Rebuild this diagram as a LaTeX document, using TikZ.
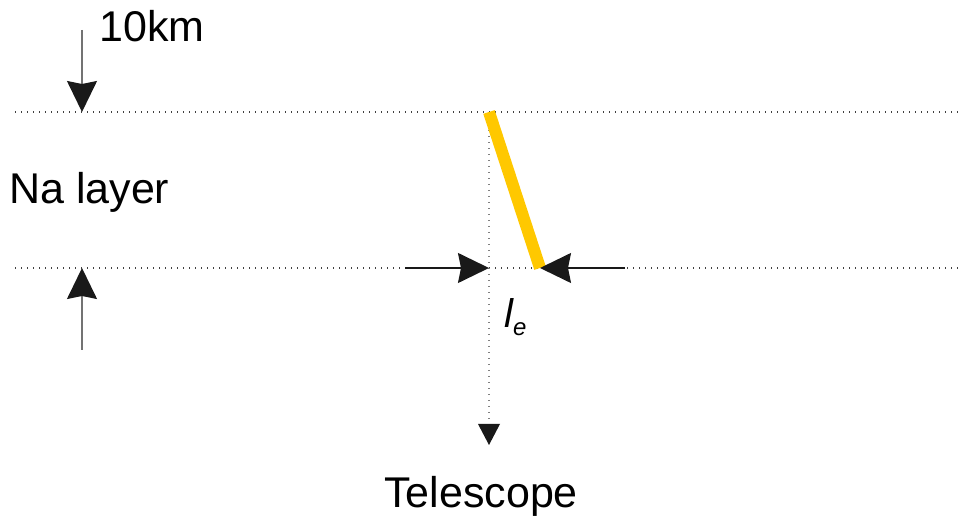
\documentclass[tikz,border=0pt]{standalone}
\usepackage{fontspec}
\setmainfont{Liberation Sans}
\usetikzlibrary{arrows.meta}
\definecolor{barY}{HTML}{FFC800}
\tikzset{
  dots/.style={line width=1.2pt, dash pattern=on 1.2pt off 4.8pt, color=black!75},
  bigarrow/.style={line width=1.5pt, -{Stealth[length=31pt,width=30pt,inset=3pt,color=black!90,fill=black!90]}},
  lbl/.style={font=\fontsize{43}{46}\selectfont, inner sep=0pt, anchor=base west}
}
\begin{document}
\begin{tikzpicture}[x=1pt,y=-1pt]
\useasboundingbox (0,0) rectangle (962,518);
% layer boundaries
\coordinate (tl) at (15,112);
\coordinate (tr) at (962,112);
\coordinate (bl) at (15,268);
\coordinate (br) at (962,268);
\draw[dots] (tl) -- (tr);
\draw[dots] (bl) -- (br);
% central axis
\coordinate (ctop) at (489,112);
\coordinate (cbot) at (489,268);
\coordinate (cend) at (489,445);
\draw[dots, color=black!50] (ctop) -- (489,425);
\fill[black!90] (478,424) -- (500,424) -- (cend) -- cycle;
% yellow bar
\coordinate (ybot) at (540,268);
\draw[barY, line width=12pt] (ctop) -- (ybot);
% 10 km arrows
\coordinate (a1s) at (82,30);
\coordinate (a1e) at (82,112);
\coordinate (a2s) at (82,350);
\coordinate (a2e) at (82,268);
\draw[bigarrow, draw=black!55] (a1s) -- (a1e);
\draw[bigarrow, draw=black!55] (a2s) -- (a2e);
% l_e arrows
\coordinate (h1s) at (405,268);
\coordinate (h2s) at (625,268);
\draw[bigarrow, draw=black!90] (h1s) -- (cbot);
\draw[bigarrow, draw=black!90] (h2s) -- (ybot);
% labels
\node[lbl] (km) at (99,42) {10km};
\node[lbl] (na) at (9,204) {Na layer};
\node[lbl] (tel) at (384,508) {Telescope};
\node[inner sep=0pt, anchor=base west, font=\fontsize{40}{44}\selectfont\itshape] (le) at (504,328) {l\raisebox{-8pt}{\fontsize{24}{26}\selectfont e}};
\end{tikzpicture}
\end{document}
